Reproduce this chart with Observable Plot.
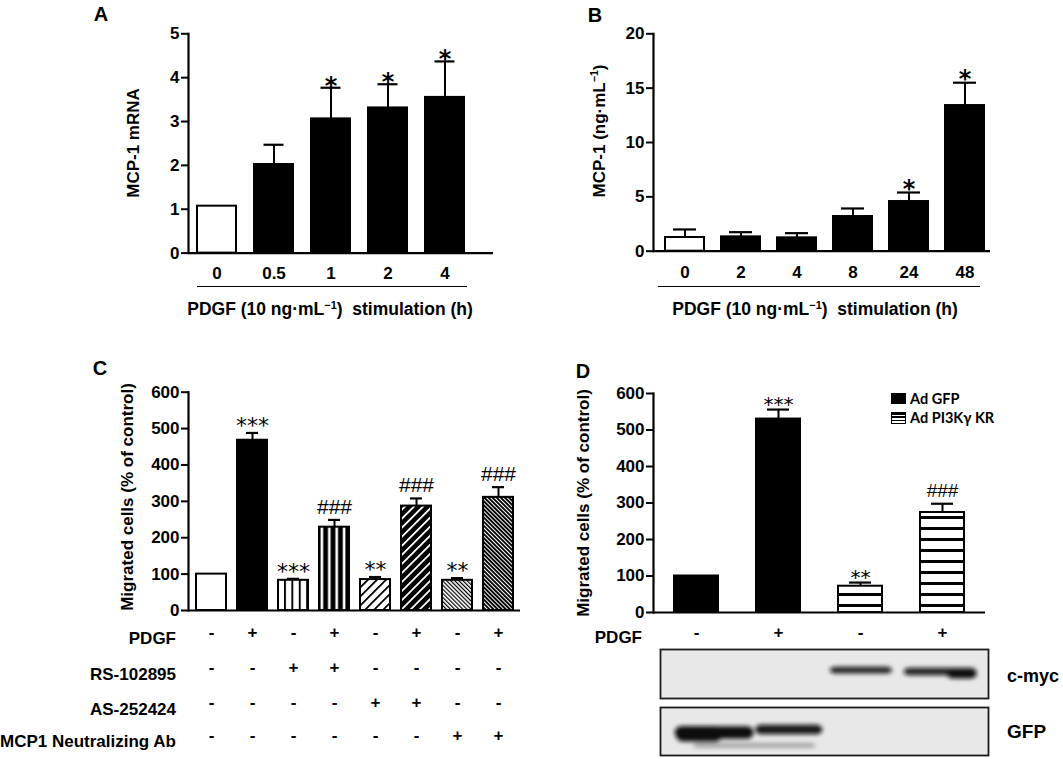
<!DOCTYPE html>
<html><head><meta charset="utf-8">
<script src="https://cdn.jsdelivr.net/npm/d3@7"></script>
<script src="https://cdn.jsdelivr.net/npm/@observablehq/plot@0.6"></script>
<style>
body{margin:0;background:#fff;}
#fig{position:relative;width:1063px;height:759px;overflow:hidden;font-family:"Liberation Sans",Arial,sans-serif;font-weight:bold;color:#000;background:#fff;}
.abs{position:absolute;white-space:pre;line-height:1;}
.rot{transform:translate(-50%,-50%) rotate(-90deg);}
.ctr{transform:translate(-50%,-50%);}
.rgt{transform:translate(-100%,-50%);}
.lft{transform:translate(0,-50%);}
sup{font-size:0.62em;vertical-align:0.6em;line-height:0;}
.uline{position:absolute;height:0;border-top:1.5px solid #000;}
</style></head>
<body>
<svg width="0" height="0" style="position:absolute;left:0;top:0">
<defs>
<pattern id="vThin" patternUnits="userSpaceOnUse" width="7.4" height="8"><rect width="7.4" height="8" fill="#fff"/><rect x="2.8" width="1.9" height="8" fill="#000"/></pattern>
<pattern id="vThick" patternUnits="userSpaceOnUse" width="7.4" height="8"><rect width="7.4" height="8" fill="#000"/><rect x="2.4" width="2.6" height="8" fill="#fff"/></pattern>
<pattern id="dThin" patternUnits="userSpaceOnUse" width="6.4" height="8" patternTransform="rotate(45)"><rect width="6.4" height="8" fill="#fff"/><rect width="1.8" height="8" fill="#000"/></pattern>
<pattern id="dThick" patternUnits="userSpaceOnUse" width="6.4" height="8" patternTransform="rotate(45)"><rect width="6.4" height="8" fill="#000"/><rect width="1.8" height="8" fill="#fff"/></pattern>
<pattern id="bThin" patternUnits="userSpaceOnUse" width="2.9" height="8" patternTransform="rotate(-45)"><rect width="2.9" height="8" fill="#fff"/><rect width="1.2" height="8" fill="#000"/></pattern>
<pattern id="bThick" patternUnits="userSpaceOnUse" width="2.9" height="8" patternTransform="rotate(-45)"><rect width="2.9" height="8" fill="#000"/><rect width="1.0" height="8" fill="#fff"/></pattern>
<pattern id="hStripe" patternUnits="userSpaceOnUse" width="8" height="11"><rect width="8" height="11" fill="#fff"/><rect y="0" width="8" height="3" fill="#000"/></pattern>
<filter id="bandBlur" filterUnits="userSpaceOnUse" x="-50" y="-50" width="600" height="200"><feGaussianBlur stdDeviation="2"/></filter>
</defs>
</svg>
<div id="fig"></div>
<script>
// ---------- Panel A data ----------
const aTimes = ["0", "0.5", "1", "2", "4"];
const aMean = [1.07, 2.02, 3.06, 3.31, 3.55];
const aErr = [null, 2.47, 3.77, 3.85, 4.37];
const aSig = ["", "", "*", "*", "*"];
const aTicks = [0, 1, 2, 3, 4, 5];

// ---------- Panel B data ----------
const bTimes = ["0", "2", "4", "8", "24", "48"];
const bMean = [1.26, 1.32, 1.23, 3.19, 4.57, 13.4];
const bErr = [2.0, 1.75, 1.66, 3.93, 5.4, 15.5];
const bSig = ["", "", "", "", "*", "*"];
const bTicks = [0, 5, 10, 15, 20];

// ---------- Panel C data ----------
const cGroups = ["g1", "g2", "g3", "g4", "g5", "g6", "g7", "g8"];
const cMean = [100, 468, 83, 229, 85, 287, 83, 311];
const cErr = [null, 488, 87, 249, 92, 308, 89, 339];
const cSig = ["", "***", "***", "###", "**", "###", "**", "###"];
const cTicks = [0, 100, 200, 300, 400, 500, 600];
const cRowLabels = ["PDGF", "RS-102895", "AS-252424", "MCP1 Neutralizing Ab"];
const cPDGF = ["-", "+", "-", "+", "-", "+", "-", "+"];
const cRS = ["-", "-", "+", "+", "-", "-", "-", "-"];
const cAS = ["-", "-", "-", "-", "+", "+", "-", "-"];
const cAb = ["-", "-", "-", "-", "-", "-", "+", "+"];

// ---------- Panel D data ----------
const dGroups = ["h1", "h2", "h3", "h4"];
const dVirus = ["Ad GFP", "Ad GFP", "Ad PI3Kγ KR", "Ad PI3Kγ KR"];
const dMean = [100, 530, 72, 274];
const dErr = [null, 556, 82, 298];
const dSig = ["", "***", "**", "###"];
const dPDGF = ["-", "+", "-", "+"];
const dTicks = [0, 100, 200, 300, 400, 500, 600];

// ---------- Western blot bands (lane units 0-4, vertical fraction from top) ----------
const blotNames = ["c-myc", "GFP"];
const cmycX1 = [2.07, 2.97, 3.5];
const cmycX2 = [2.83, 3.86, 3.86];
const cmycY = [0.43, 0.46, 0.52];
const cmycH = [0.14, 0.15, 0.16];
const cmycTone = [0.9, 0.9, 1.0];
const gfpX1 = [0.18, 0.2, 1.16, 0.4];
const gfpX2 = [1.14, 0.75, 1.98, 1.9];
const gfpY = [0.53, 0.56, 0.47, 0.8];
const gfpH = [0.26, 0.32, 0.2, 0.1];
const gfpTone = [1.0, 1.0, 0.95, 0.3];

// ---------- styling (not data) ----------
const FONT = "'Liberation Sans', Arial, sans-serif";
const fillA = ["#fff", "#000", "#000", "#000", "#000"];
const fillB = ["#fff", "#000", "#000", "#000", "#000", "#000"];
const fillC = ["#fff", "#000", "url(#vThin)", "url(#vThick)", "url(#dThin)", "url(#dThick)", "url(#bThin)", "url(#bThick)"];
const fillD = ["#000", "#000", "url(#hStripe)", "url(#hStripe)"];

const fig = document.getElementById("fig");
function place(el, left, top) {
  const w = document.createElement("div");
  w.style.cssText = `position:absolute;left:${left}px;top:${top}px;`;
  w.appendChild(el);
  fig.appendChild(w);
}
function label(html, x, y, cls, extra = "") {
  const d = document.createElement("div");
  d.className = "abs " + cls;
  d.style.cssText = `left:${x}px;top:${y}px;${extra}`;
  d.innerHTML = html;
  fig.appendChild(d);
}
function uline(x1, x2, y) {
  const d = document.createElement("div");
  d.className = "uline";
  d.style.cssText = `left:${x1}px;top:${y}px;width:${x2 - x1}px;`;
  fig.appendChild(d);
}

function barPanel(o) {
  const rows = o.keys.map((k, i) => ({k, i, mean: o.mean[i], err: o.err[i], sig: o.sig[i]}));
  const withErr = rows.filter(d => d.err != null);
  const stars = rows.filter(d => d.sig && d.sig[0] === "*");
  const hashes = rows.filter(d => d.sig && d.sig[0] === "#");
  const top = d => d.err ?? d.mean;
  const marks = [
    Plot.barY(rows, {x: "k", y: "mean", fill: d => o.fill[d.i], stroke: "#000", strokeWidth: 2}),
    Plot.ruleX(withErr, {x: "k", y1: "mean", y2: "err", stroke: "#000", strokeWidth: 2}),
    Plot.tickY(withErr, {x: "k", y: "err", stroke: "#000", strokeWidth: 2.2, insetLeft: o.cap, insetRight: o.cap}),
    Plot.ruleY([0], {stroke: "#000", strokeWidth: 2.2}),
    Plot.frame({anchor: "left", stroke: "#000", strokeWidth: 2.2}),
    Plot.axisY({ticks: o.yTicks, tickSize: 7, tickPadding: 2, tickFormat: d => String(d), label: null, fontSize: 17, strokeWidth: 2}),
    Plot.text(stars, {x: "k", y: top, text: "sig", lineAnchor: "bottom", dy: o.star.dy, fontSize: o.star.size, fontFamily: o.star.family, fontWeight: o.star.weight}),
    Plot.text(hashes, {x: "k", y: top, text: "sig", lineAnchor: "bottom", dy: o.hash ? o.hash.dy : 0, fontSize: o.hash ? o.hash.size : 10, fontFamily: FONT, fontWeight: o.hash ? o.hash.weight : "normal"})
  ];
  if (o.xAxis) marks.push(Plot.axisX({tickSize: 0, tickPadding: o.xPad, fontSize: 17, label: null}));
  (o.signRows || []).forEach(r => {
    marks.push(Plot.text(rows, {x: "k", text: d => r.vals[d.i], frameAnchor: "bottom", dy: r.dy, fontSize: 17, fontWeight: "bold", fontFamily: FONT}));
  });
  return Plot.plot({
    width: o.W, height: o.H,
    marginTop: o.mt, marginRight: o.mr, marginBottom: o.mb, marginLeft: o.ml,
    x: Object.assign({type: "band", domain: o.keys, range: o.xr, paddingInner: o.pi, paddingOuter: o.po}, o.xAxis ? {} : {axis: null}),
    y: {domain: o.yDomain},
    color: {type: "identity"},
    style: {fontFamily: FONT, fontWeight: "bold", fontSize: "16px", color: "#000", background: "none", overflow: "visible"},
    marks
  });
}

// Panel A
place(barPanel({
  keys: aTimes, mean: aMean, err: aErr, sig: aSig, fill: fillA, yTicks: aTicks, yDomain: [0, 5],
  W: 400, H: 330, mt: 33.3, mr: 7, mb: 77.4, ml: 88, xr: [88, 373], pi: 0.316, po: 0.158, cap: 9.5,
  star: {size: 24, family: "'DejaVu Sans', sans-serif", weight: "bold", dy: 6}, xAxis: true, xPad: 14
}), 100, 0);

// Panel B
place(barPanel({
  keys: bTimes, mean: bMean, err: bErr, sig: bSig, fill: fillB, yTicks: bTicks, yDomain: [0, 20],
  W: 440, H: 330, mt: 33.3, mr: 10, mb: 79.3, ml: 93, xr: [96.3, 432.3], pi: 0.31, po: 0.155, cap: 8,
  star: {size: 24, family: "'DejaVu Sans', sans-serif", weight: "bold", dy: 4}, xAxis: true, xPad: 15
}), 560, 0);

// Panel C
place(barPanel({
  keys: cGroups, mean: cMean, err: cErr, sig: cSig, fill: fillC, yTicks: cTicks, yDomain: [0, 600],
  W: 530, H: 419, mt: 51.7, mr: 10, mb: 149, ml: 188, xr: [188.3, 519.5], pi: 0.275, po: 0.1375, cap: 9,
  star: {size: 22, family: "'DejaVu Sans', sans-serif", weight: "normal", dy: 0},
  hash: {size: 21, dy: -6, weight: "normal"},
  signRows: [{vals: cPDGF, dy: 27}, {vals: cRS, dy: 62}, {vals: cAS, dy: 97}, {vals: cAb, dy: 130}]
}), 0, 340);

// Panel D
place(barPanel({
  keys: dGroups, mean: dMean, err: dErr, sig: dSig, fill: fillD, yTicks: dTicks, yDomain: [0, 600],
  W: 533, H: 419, mt: 53, mr: 78, mb: 147, ml: 123, xr: [123.6, 454.4], pi: 0.468, po: 0.234, cap: 11,
  star: {size: 20, family: "'DejaVu Sans', sans-serif", weight: "normal", dy: 1},
  hash: {size: 19, dy: -7, weight: "normal"},
  signRows: [{vals: dPDGF, dy: 25}]
}), 530, 340);

// Western blots
function blot(x1, x2, y, h, tone, W, H) {
  const bands = x1.map((v, i) => ({x1: v, x2: x2[i], y1: y[i] - h[i] / 2, y2: y[i] + h[i] / 2, o: tone[i]}));
  const svg = Plot.plot({
    width: W, height: H, margin: 1,
    x: {domain: [0, 4], axis: null}, y: {domain: [0, 1], reverse: true, axis: null},
    style: {background: "none", overflow: "visible"},
    marks: [
      Plot.frame({fill: "#e8e8e8", stroke: "none"}),
      Plot.rect(bands, {x1: "x1", x2: "x2", y1: "y1", y2: "y2", fill: "#111", fillOpacity: "o", rx: 6}),
      Plot.frame({stroke: "#1c1c1c", strokeWidth: 1.8})
    ]
  });
  d3.select(svg).selectAll('g[aria-label="rect"]').attr("filter", "url(#bandBlur)");
  return svg;
}
place(blot(cmycX1, cmycX2, cmycY, cmycH, cmycTone, 330, 51), 659, 648);
place(blot(gfpX1, gfpX2, gfpY, gfpH, gfpTone, 330, 50), 659, 706);

// ---------- Text ----------
const panelFont = "font-size:20px;";
label("A", 101, 14, "ctr", panelFont);
label("B", 595, 15, "ctr", panelFont);
label("C", 100, 368, "ctr", panelFont);
label("D", 583, 371, "ctr", panelFont);

label("MCP-1 mRNA", 133, 143, "rot", "font-size:17px;");
label("MCP-1 (ng·mL<sup>−1</sup>)", 599, 131, "rot", "font-size:17px;");
label("Migrated cells (% of control)", 127, 497, "rot", "font-size:17px;");
label("Migrated cells (% of control)", 583, 503, "rot", "font-size:17px;");

uline(197, 467, 285.5);
uline(658, 980, 285.5);
label("PDGF (10 ng·mL<sup>−1</sup>)  stimulation (h)", 330, 310, "ctr", "font-size:17.5px;");
label("PDGF (10 ng·mL<sup>−1</sup>)  stimulation (h)", 815, 310, "ctr", "font-size:17.5px;");

const rowY = [638, 674, 709, 741];
cRowLabels.forEach((t, i) => label(t, 176, rowY[i], "rgt", "font-size:17px;"));
label("PDGF", 642, 637, "rgt", "font-size:17px;");

label(blotNames[0], 1007, 676, "lft", "font-size:18px;");
label(blotNames[1], 1007, 731, "lft", "font-size:19px;");

// Legend D
const legendVirus = Array.from(new Set(dVirus));
const sw = document.createElement("div");
sw.style.cssText = "position:absolute;left:891px;top:393px;width:15px;height:11px;background:#000;";
fig.appendChild(sw);
const sw2 = document.createElement("div");
sw2.style.cssText = "position:absolute;left:891px;top:412px;width:13px;height:10px;border:1px solid #000;background:repeating-linear-gradient(to bottom,#000 0 1.6px,#fff 1.6px 3.4px);";
fig.appendChild(sw2);
label(legendVirus[0], 910, 398.5, "lft", "font-family:Lato,'Open Sans',sans-serif;font-size:14.5px;");
label(legendVirus[1], 910, 417.5, "lft", "font-family:Lato,'Open Sans',sans-serif;font-size:14.5px;");
</script>
</body></html>
